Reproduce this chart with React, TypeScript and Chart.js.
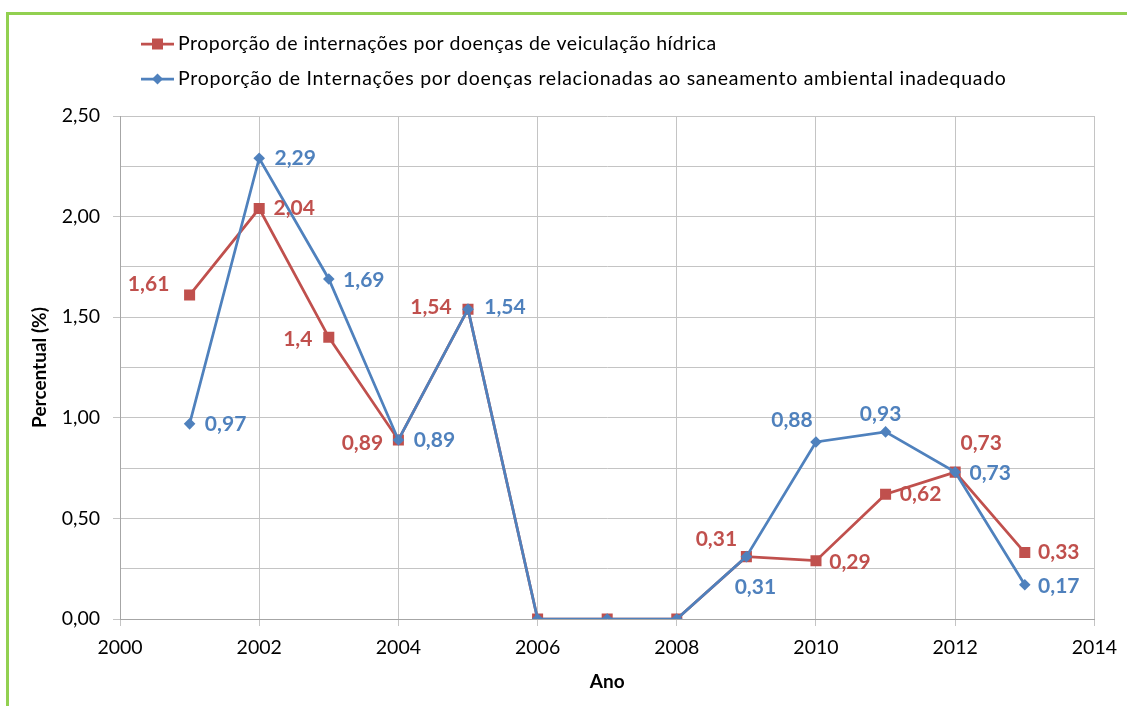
import React, { useEffect, useRef } from 'react';
import { Chart, registerables } from 'chart.js';

Chart.register(...registerables);

// Internações (%) por ano
const years = [2001, 2002, 2003, 2004, 2005, 2006, 2007, 2008, 2009, 2010, 2011, 2012, 2013];
const veiculacaoHidrica = [1.61, 2.04, 1.4, 0.89, 1.54, 0, 0, 0, 0.31, 0.29, 0.62, 0.73, 0.33];
const saneamentoInadequado = [0.97, 2.29, 1.69, 0.89, 1.54, 0, 0, 0, 0.31, 0.88, 0.93, 0.73, 0.17];

const serieHidrica = 'Proporção de internações por doenças de veiculação hídrica';
const serieSaneamento =
  'Proporção de Internações por doenças relacionadas ao saneamento ambiental inadequado';

const yAxisTitle = 'Percentual (%)';
const xAxisTitle = 'Ano';

const RED = '#C0504D';
const BLUE = '#4F81BD';
const GRID = '#C4C4C4';
const FONT = 'Lato';

// Offset (px) of each value label from its point; null = no label
type Offset = [number, number] | null;
const hidricaLabelOffsets: Offset[] = [
  [-41, -11], [35, 0], [-31, 2], [-36, 3], [-37, -2], null, null, null,
  [-30, -17], [34, 2], [35, 0], [26, -29], [34, 0],
];
const saneamentoLabelOffsets: Offset[] = [
  [36, 0], [36, 0], [35, 1], [36, 0], [37, -2], null, null, null,
  [9, 31], [-24, -22], [-5, -18], [35, 1], [34, 1],
];

const fmtValue = (v: number) => String(v).replace('.', ',');

const isHalfStep = (v: number) => Math.abs(v * 2 - Math.round(v * 2)) < 1e-6;

function drawMarker(ctx: CanvasRenderingContext2D, style: string, x: number, y: number, color: string) {
  ctx.fillStyle = color;
  ctx.beginPath();
  if (style === 'rect') {
    ctx.rect(x - 5.5, y - 5.5, 11, 11);
  } else {
    ctx.moveTo(x - 5.5, y);
    ctx.lineTo(x, y - 5.5);
    ctx.lineTo(x + 5.5, y);
    ctx.lineTo(x, y + 5.5);
    ctx.closePath();
  }
  ctx.fill();
}

const legendPlugin = {
  id: 'topLegend',
  afterDraw(chart: Chart) {
    const ctx = chart.ctx as any;
    const items = [
      { label: serieHidrica, color: RED, style: 'rect', y: 44, spacing: '0.48px' },
      { label: serieSaneamento, color: BLUE, style: 'rectRot', y: 79, spacing: '0.72px' },
    ];
    ctx.save();
    for (const it of items) {
      ctx.strokeStyle = it.color;
      ctx.lineWidth = 2.75;
      ctx.beginPath();
      ctx.moveTo(141, it.y);
      ctx.lineTo(174, it.y);
      ctx.stroke();
      drawMarker(ctx, it.style, 157.5, it.y, it.color);
      ctx.fillStyle = '#000';
      ctx.font = `19.5px ${FONT}`;
      ctx.letterSpacing = it.spacing;
      ctx.textAlign = 'left';
      ctx.textBaseline = 'middle';
      ctx.fillText(it.label, 178, it.y);
    }
    ctx.restore();
  },
};

const valueLabelPlugin = {
  id: 'valueLabels',
  afterDatasetsDraw(chart: Chart) {
    const ctx = chart.ctx;
    ctx.save();
    ctx.font = `bold 21px ${FONT}`;
    ctx.textAlign = 'center';
    ctx.textBaseline = 'middle';
    chart.data.datasets.forEach((ds: any, di: number) => {
      const meta = chart.getDatasetMeta(di);
      const offsets: Offset[] = ds.labelOffsets;
      meta.data.forEach((pt: any, i: number) => {
        const off = offsets[i];
        if (!off) return;
        const raw = ds.data[i] as { x: number; y: number };
        ctx.fillStyle = ds.labelColor;
        ctx.fillText(fmtValue(raw.y), pt.x + off[0], pt.y + off[1]);
      });
    });
    ctx.restore();
  },
};

export default function App() {
  const canvasRef = useRef<HTMLCanvasElement | null>(null);

  useEffect(() => {
    if (!canvasRef.current) return;
    const chart = new Chart(canvasRef.current, {
      type: 'line',
      data: {
        datasets: [
          {
            label: serieHidrica,
            data: years.map((x, i) => ({ x, y: veiculacaoHidrica[i] })),
            borderColor: RED,
            backgroundColor: RED,
            borderWidth: 2.75,
            pointStyle: 'rect',
            pointRadius: 7.8,
            pointBorderWidth: 0,
            pointBackgroundColor: RED,
            order: 1,
            labelOffsets: hidricaLabelOffsets,
            labelColor: RED,
          } as any,
          {
            label: serieSaneamento,
            data: years.map((x, i) => ({ x, y: saneamentoInadequado[i] })),
            borderColor: BLUE,
            backgroundColor: BLUE,
            borderWidth: 2.75,
            pointStyle: 'rectRot',
            pointRadius: 5.8,
            pointBorderWidth: 0,
            pointBackgroundColor: BLUE,
            order: 0,
            labelOffsets: saneamentoLabelOffsets,
            labelColor: BLUE,
          } as any,
        ],
      },
      options: {
        animation: false,
        responsive: false,
        layout: { padding: { top: 116, right: 30, left: 0, bottom: 0 } },
        plugins: {
          legend: { display: false },
          tooltip: { enabled: false },
        },
        scales: {
          x: {
            type: 'linear',
            min: 2000,
            max: 2014,
            afterFit: (s: any) => {
              s.height = 87;
            },
            ticks: {
              stepSize: 2,
              padding: 10,
              color: '#000',
              font: { family: FONT, size: 19.5 },
              callback: (v: any) => String(v),
            },
            grid: { color: GRID, tickLength: 7, tickColor: GRID },
            border: { color: '#A6A6A6' },
            title: {
              display: true,
              text: xAxisTitle,
              color: '#000',
              font: { family: FONT, size: 19, weight: 'bold' },
              padding: { top: 0, bottom: 13 },
            },
          },
          y: {
            min: 0,
            max: 2.5,
            afterFit: (s: any) => {
              s.width = 120;
            },
            ticks: {
              stepSize: 0.25,
              padding: 13,
              color: '#000',
              font: { family: FONT, size: 19.5 },
              callback: (v: any) => (isHalfStep(Number(v)) ? Number(v).toFixed(2).replace('.', ',') : ''),
            },
            grid: {
              color: GRID,
              tickLength: 7,
              tickColor: (c: any) => (c.tick && isHalfStep(c.tick.value) ? GRID : 'rgba(0,0,0,0)'),
            },
            border: { color: '#A6A6A6' },
            title: {
              display: true,
              text: yAxisTitle,
              color: '#000',
              font: { family: FONT, size: 19, weight: 'bold' },
              padding: { top: 28, bottom: 0 },
            },
          },
        },
      },
      plugins: [valueLabelPlugin, legendPlugin],
    });
    return () => chart.destroy();
  }, []);

  return (
    <div style={{ position: 'fixed', left: 0, top: 0, width: 1127, height: 706, background: '#fff', overflow: 'hidden' }}>
      <div
        style={{
          position: 'absolute',
          left: 6,
          top: 12,
          width: 1200,
          height: 800,
          borderLeft: '3px solid #92D050',
          borderTop: '3px solid #92D050',
        }}
      />
      <canvas ref={canvasRef} width={1127} height={706} style={{ position: 'absolute', left: 0, top: 0 }} />
    </div>
  );
}
